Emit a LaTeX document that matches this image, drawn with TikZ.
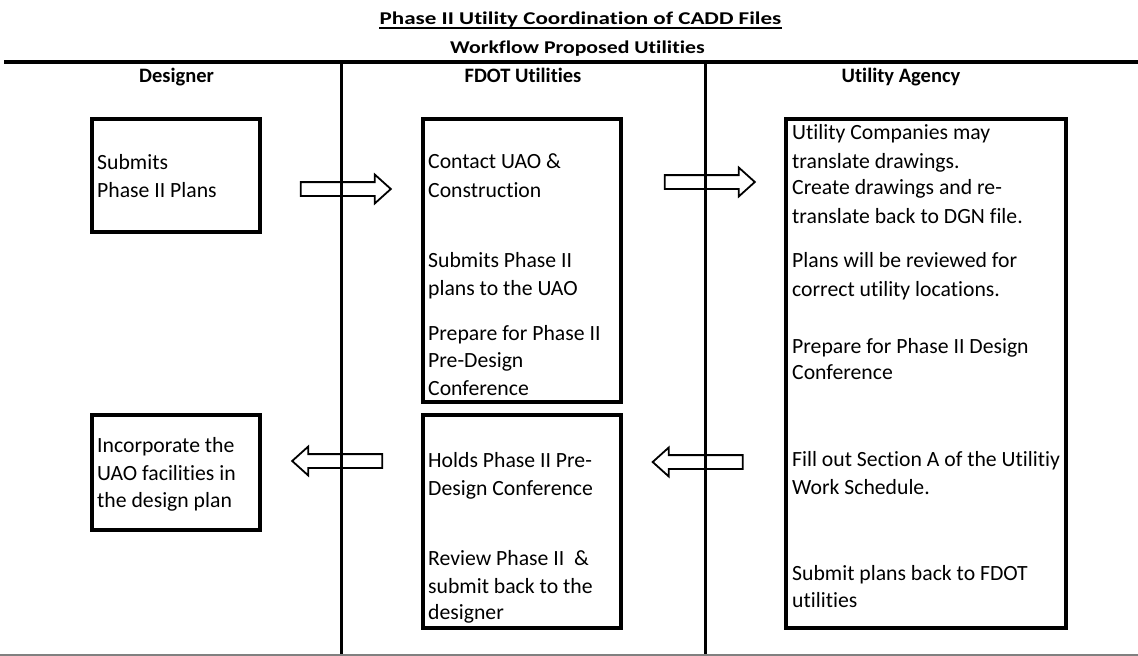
\documentclass[tikz,border=0pt]{standalone}
\usepackage{fontspec}
\usepackage{graphicx}
\setmainfont[Ligatures={NoCommon}]{Carlito}
\usetikzlibrary{shapes.arrows}
\begin{document}
\begin{tikzpicture}[x=1pt,y=-1pt,
  box/.style={draw, line width=3.2pt, rectangle, inner sep=0pt},
  txt/.style={anchor=base west, inner sep=0pt, font=\fontsize{21.7}{25}\selectfont},
  hdr/.style={anchor=base, inner sep=0pt, font=\fontsize{20.5}{24}\selectfont\bfseries},
  ttl/.style={anchor=base, inner sep=0pt, font=\fontsize{18}{22}\selectfont\bfseries},
  blockarrow/.style={single arrow, draw, fill=white, line width=1.8pt, minimum height=90pt,
    inner xsep=0pt, inner ysep=6pt, single arrow head extend=7.5pt, single arrow tip angle=84},
  lane/.style={line width=3pt}
]
\useasboundingbox (0,0) rectangle (1138,656);

% title
\node[ttl] (title) at (580.5,24) {\scalebox{1.28}[1]{Phase II Utility Coordination of CADD Files}};
\draw[line width=1.4pt] ([yshift=-4pt]title.base west) -- ([yshift=-4pt]title.base east);
\node[ttl] (subtitle) at (577.5,53) {\scalebox{1.21}[1]{Workflow Proposed Utilities}};

% block arrows (drawn under the lane lines)
\node[blockarrow] (ar1) at (342,189) {};
\node[blockarrow] (ar2) at (706,182) {};
\node[blockarrow, shape border rotate=180] (ar3) at (341,461) {};
\node[blockarrow, shape border rotate=180] (ar4) at (701.5,462) {};

% lanes
\coordinate (tl) at (4,62);
\coordinate (tr) at (1138,62);
\coordinate (v1t) at (341,62);
\coordinate (v1b) at (341,656);
\coordinate (v2t) at (705,62);
\coordinate (v2b) at (705,656);
\coordinate (bl) at (0,655);
\coordinate (br) at (1138,655);
\draw[line width=4pt] (tl) -- (tr);
\draw[lane] (v1t) -- (v1b);
\draw[lane] (v2t) -- (v2b);
\draw[line width=1.5pt, gray] (bl) -- (br);

% headers
\node[hdr] (h1) at (176.5,82) {Designer};
\node[hdr] (h2) at (523,82) {FDOT Utilities};
\node[hdr] (h3) at (901,82) {Utility Agency};

% boxes
\node[box, minimum width=168pt, minimum height=113pt] (d1) at (176,175.5) {};
\node[box, minimum width=168pt, minimum height=115pt] (d2) at (176,472.5) {};
\node[box, minimum width=198pt, minimum height=283pt] (f1) at (522,260.5) {};
\node[box, minimum width=198pt, minimum height=213pt] (f2) at (522,521.5) {};
\node[box, minimum width=280pt, minimum height=509pt] (a1) at (926,373.5) {};

% designer texts
\node[txt] (d1a) at (97,169) {Submits};
\node[txt] (d1b) at (97,197) {Phase II Plans};
\node[txt] (d2a) at (97,452) {Incorporate the};
\node[txt] (d2b) at (97,480) {UAO facilities in};
\node[txt] (d2c) at (97,507) {the design plan};

% FDOT texts
\node[txt] (f1a) at (428,168) {Contact UAO \&};
\node[txt] (f1b) at (428,197) {Construction};
\node[txt] (f1c) at (428,267) {Submits Phase II};
\node[txt] (f1d) at (428,295) {plans to the UAO};
\node[txt] (f1e) at (428,340) {Prepare for Phase II};
\node[txt] (f1f) at (428,367) {Pre-Design};
\node[txt] (f1g) at (428,395) {Conference};
\node[txt] (f2a) at (428,467) {Holds Phase II Pre-};
\node[txt] (f2b) at (428,495) {Design Conference};
\node[txt] (f2c) at (428,565) {Review Phase II\ \ \&};
\node[txt] (f2d) at (428,593) {submit back to the};
\node[txt] (f2e) at (428,619) {designer};

% agency texts
\node[txt] (a1a) at (792,139) {Utility Companies may};
\node[txt] (a1b) at (792,168) {translate drawings.};
\node[txt] (a1c) at (792,194) {Create drawings and re-};
\node[txt] (a1d) at (792,223) {translate back to DGN file.};
\node[txt] (a1e) at (792,267) {Plans will be reviewed for};
\node[txt] (a1f) at (792,296) {correct utility locations.};
\node[txt] (a1g) at (792,353) {Prepare for Phase II Design};
\node[txt] (a1h) at (792,379) {Conference};
\node[txt] (a1i) at (792,466) {Fill out Section A of the Utilitiy};
\node[txt] (a1j) at (792,494) {Work Schedule.};
\node[txt] (a1k) at (792,580) {Submit plans back to FDOT};
\node[txt] (a1l) at (792,607) {utilities};
\end{tikzpicture}
\end{document}
